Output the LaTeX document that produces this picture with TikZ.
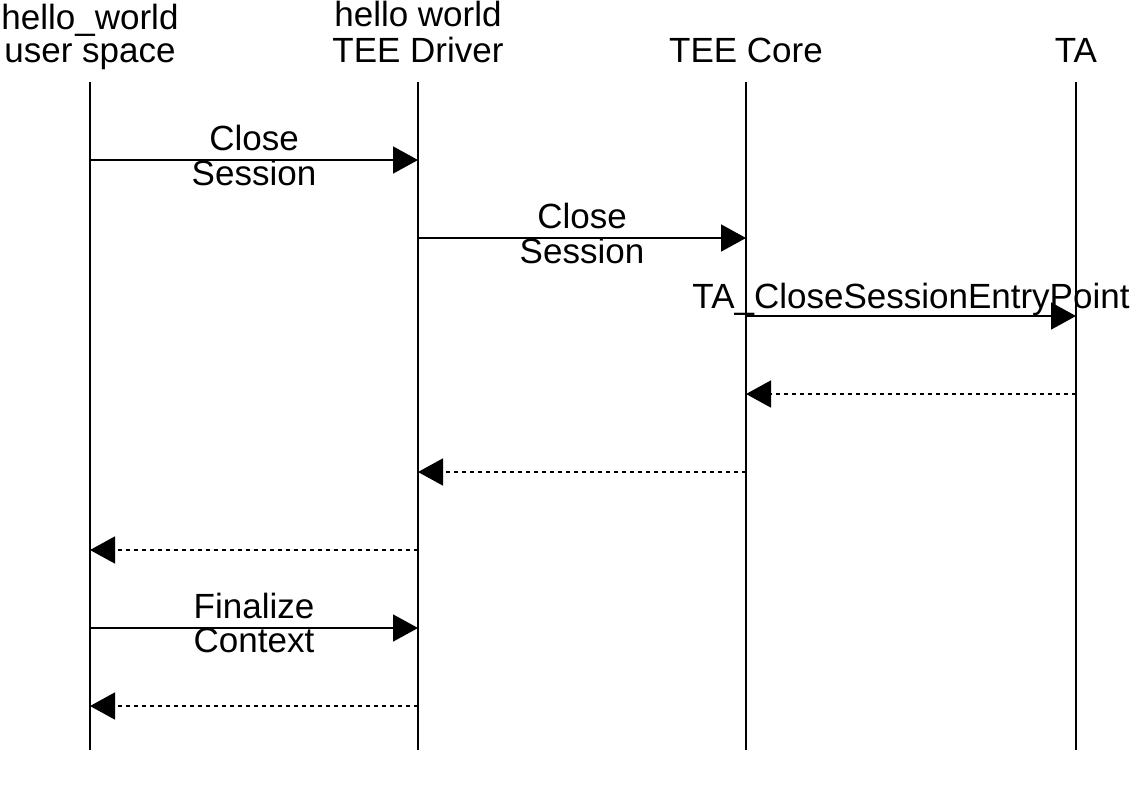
\documentclass[tikz,border=0pt]{standalone}
\usepackage{fontspec}
\setmainfont{Liberation Sans}
\usetikzlibrary{arrows.meta}
\begin{document}
\begin{tikzpicture}[x=1pt,y=-1pt,
  every node/.style={inner sep=0pt,font=\fontsize{35}{32.5}\selectfont},
  life/.style={line width=1.6pt},
  msg/.style={line width=1.6pt,-{Triangle[length=25pt,width=27pt]}},
  ret/.style={msg,dash pattern=on 4pt off 4pt}]
\useasboundingbox (0,0) rectangle (1140,785);
% lifeline ends
\coordinate (Ut) at (90,82);   \coordinate (Ub) at (90,750);
\coordinate (Dt) at (418,82);  \coordinate (Db) at (418,750);
\coordinate (Ct) at (746,82);  \coordinate (Cb) at (746,750);
\coordinate (Tt) at (1076,82); \coordinate (Tb) at (1076,750);
% headers
\node[anchor=base] (hU) at (90,62) {\begin{tabular}[b]{@{}c@{}}hello\_world\\user space\end{tabular}};
\node[anchor=base] (hD) at (418,62) {\begin{tabular}[b]{@{}c@{}}hello world\\TEE Driver\end{tabular}};
\node[anchor=base] (hC) at (746,62) {TEE Core};
\node[anchor=base] (hT) at (1076,62) {TA};
\draw[life] (Ut) -- (Ub);
\draw[life] (Dt) -- (Db);
\draw[life] (Ct) -- (Cb);
\draw[life] (Tt) -- (Tb);
% message rows
\coordinate (m1) at (0,160);
\coordinate (m2) at (0,238);
\coordinate (m3) at (0,316);
\coordinate (m4) at (0,394);
\coordinate (m5) at (0,472);
\coordinate (m6) at (0,550);
\coordinate (m7) at (0,628);
\coordinate (m8) at (0,706);
\draw[msg] (Ut |- m1) -- (Dt |- m1);
\node[anchor=base] (l1) at (254,150) {\begin{tabular}[t]{@{}c@{}}Close\\Session\end{tabular}};
\draw[msg] (Dt |- m2) -- (Ct |- m2);
\node[anchor=base] (l2) at (582,228) {\begin{tabular}[t]{@{}c@{}}Close\\Session\end{tabular}};
\draw[msg] (Ct |- m3) -- (Tt |- m3);
\node[anchor=base] (l3) at (911,308) {TA\_CloseSessionEntryPoint};
\draw[ret] (Tt |- m4) -- (Ct |- m4);
\draw[ret] (Ct |- m5) -- (Dt |- m5);
\draw[ret] (Dt |- m6) -- (Ut |- m6);
\draw[msg] (Ut |- m7) -- (Dt |- m7);
\node[anchor=base] (l7) at (254,618) {\begin{tabular}[t]{@{}c@{}}Finalize\\Context\end{tabular}};
\draw[ret] (Dt |- m8) -- (Ut |- m8);
\end{tikzpicture}
\end{document}
